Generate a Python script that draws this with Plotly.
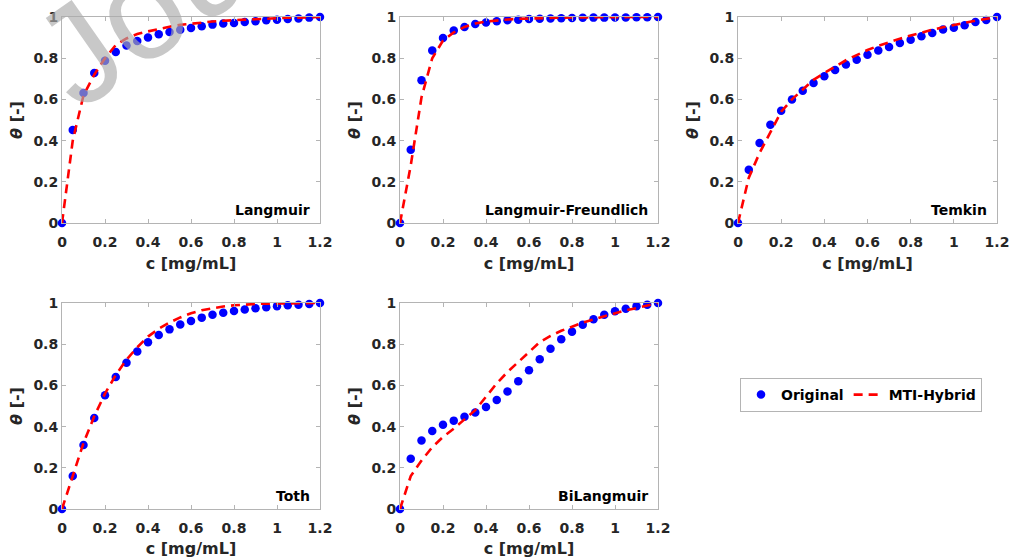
import plotly.graph_objects as go
from plotly.subplots import make_subplots

c = [0.0, 0.05, 0.1, 0.15, 0.2, 0.25, 0.3, 0.35, 0.4, 0.45, 0.5, 0.55, 0.6,
     0.65, 0.7, 0.75, 0.8, 0.85, 0.9, 0.95, 1.0, 1.05, 1.1, 1.15, 1.2]

lang_orig = [0, 0.452, 0.631, 0.728, 0.788, 0.830, 0.862, 0.883, 0.901, 0.916, 0.927, 0.938, 0.947,
             0.955, 0.963, 0.968, 0.971, 0.976, 0.979, 0.984, 0.987, 0.990, 0.993, 0.997, 1.0]
lang_mti = [0, 0.40, 0.62, 0.72, 0.80, 0.864, 0.896, 0.917, 0.930, 0.943, 0.953, 0.962, 0.968,
            0.974, 0.978, 0.982, 0.985, 0.988, 0.990, 0.992, 0.994, 0.996, 0.997, 0.999, 1.0]

lf_orig = [0, 0.356, 0.693, 0.837, 0.898, 0.934, 0.951, 0.966, 0.973, 0.979, 0.984, 0.987, 0.990,
           0.992, 0.993, 0.994, 0.995, 0.996, 0.997, 0.997, 0.998, 0.998, 0.999, 0.999, 1.0]
lf_mti = [0, 0.28, 0.61, 0.80, 0.885, 0.925, 0.952, 0.968, 0.978, 0.984, 0.988, 0.991, 0.993,
          0.995, 0.996, 0.997, 0.998, 0.998, 0.999, 0.999, 1.0, 1.0, 1.0, 1.0, 1.0]

temkin_orig = [0, 0.259, 0.388, 0.477, 0.545, 0.599, 0.642, 0.680, 0.712, 0.743, 0.769, 0.793, 0.817,
               0.837, 0.854, 0.874, 0.890, 0.906, 0.922, 0.939, 0.948, 0.960, 0.976, 0.985, 1.0]
temkin_mti = [0, 0.22, 0.34, 0.44, 0.54, 0.60, 0.648, 0.695, 0.728, 0.76, 0.79, 0.815, 0.84,
              0.86, 0.878, 0.895, 0.91, 0.925, 0.938, 0.95, 0.962, 0.972, 0.982, 0.991, 1.0]

toth_orig = [0, 0.160, 0.311, 0.442, 0.552, 0.641, 0.710, 0.765, 0.809, 0.845, 0.872, 0.896, 0.913,
             0.929, 0.943, 0.953, 0.961, 0.968, 0.974, 0.979, 0.984, 0.989, 0.992, 0.995, 1.0]
toth_mti = [0, 0.165, 0.32, 0.45, 0.56, 0.65, 0.725, 0.785, 0.837, 0.875, 0.905, 0.93, 0.95,
            0.965, 0.975, 0.983, 0.989, 0.993, 0.995, 0.997, 0.998, 0.999, 1.0, 1.0, 1.0]

bil_orig = [0, 0.244, 0.333, 0.379, 0.409, 0.429, 0.448, 0.469, 0.495, 0.529, 0.570, 0.620, 0.673,
            0.727, 0.778, 0.824, 0.861, 0.895, 0.921, 0.943, 0.960, 0.972, 0.984, 0.992, 1.0]
bil_mti = [0, 0.16, 0.235, 0.30, 0.35, 0.39, 0.435, 0.48, 0.545, 0.61, 0.665, 0.715, 0.765,
           0.81, 0.84, 0.865, 0.885, 0.905, 0.92, 0.935, 0.953, 0.965, 0.975, 0.988, 1.0]

panel_names = ["Langmuir", "Langmuir-Freundlich", "Temkin", "Toth", "BiLangmuir"]
orig_series = [lang_orig, lf_orig, temkin_orig, toth_orig, bil_orig]
mti_series = [lang_mti, lf_mti, temkin_mti, toth_mti, bil_mti]

x_ticks = [0, 0.2, 0.4, 0.6, 0.8, 1.0, 1.2]
x_ticktext = ["0", "0.2", "0.4", "0.6", "0.8", "1", "1.2"]
y_ticks = [0, 0.2, 0.4, 0.6, 0.8, 1.0]
y_ticktext = ["0", "0.2", "0.4", "0.6", "0.8", "1"]

W, H = 1011, 558
fig = make_subplots(rows=2, cols=3)

xdom = [(62 / W, 320 / W), (400 / W, 658 / W), (738 / W, 997 / W)]
ydom = [(1 - 223 / H, 1 - 17 / H), (1 - 509 / H, 1 - 303 / H)]
positions = [(1, 1), (1, 2), (1, 3), (2, 1), (2, 2)]

FONT = "DejaVu Sans"
AX_GRAY = "#b4b4b4"
TXT = "#262626"

for i, name in enumerate(panel_names):
    r, cc = positions[i]
    fig.add_trace(go.Scatter(x=c, y=orig_series[i], mode="markers", name="Original",
                             marker=dict(color="#0000ff", size=8.5),
                             cliponaxis=False, showlegend=(i == 0)), row=r, col=cc)
    fig.add_trace(go.Scatter(x=c, y=mti_series[i], mode="lines", name="MTI-Hybrid",
                             line=dict(color="#ff0000", width=2.6, dash="9px,6px"),
                             cliponaxis=False, showlegend=(i == 0)), row=r, col=cc)

for k in range(6):
    r, cc = divmod(k, 3)
    idx = "" if k == 0 else str(k + 1)
    xa = dict(domain=list(xdom[cc]), range=[0, 1.2], tickvals=x_ticks, ticktext=x_ticktext,
              automargin=False, ticklabelstandoff=6,
              showline=True, linecolor=AX_GRAY, linewidth=1, mirror="ticks",
              ticks="inside", ticklen=4, tickcolor=AX_GRAY, showgrid=False, zeroline=False,
              tickfont=dict(family=FONT, size=14, color=TXT, weight="bold"),
              title=dict(text="c [mg/mL]", standoff=9,
                         font=dict(family=FONT, size=16, color=TXT, weight="bold")))
    ya = dict(domain=list(ydom[r]), range=[0, 1], tickvals=y_ticks, ticktext=y_ticktext,
              automargin=False,
              showline=True, linecolor=AX_GRAY, linewidth=1, mirror="ticks",
              ticks="inside", ticklen=4, tickcolor=AX_GRAY, showgrid=False, zeroline=False,
              tickfont=dict(family=FONT, size=14, color=TXT, weight="bold"),
              title=dict(text="<i>θ</i> [-]", standoff=6,
                         font=dict(family=FONT, size=16, color=TXT, weight="bold")))
    if k == 5:
        xa["visible"] = False
        ya["visible"] = False
    fig.layout["xaxis" + idx].update(xa)
    fig.layout["yaxis" + idx].update(ya)

for i, name in enumerate(panel_names):
    idx = "" if i == 0 else str(i + 1)
    fig.add_annotation(text=name, xref="x" + idx + " domain", yref="y" + idx + " domain",
                       x=0.969, y=0.063, xanchor="right", yanchor="middle", showarrow=False,
                       font=dict(family=FONT, size=14, color="#000000", weight="bold"))

# watermark
fig.add_annotation(text="Journal Pre-proof", xref="paper", yref="paper",
                   x=0.4886, y=1.4265, xanchor="center", yanchor="middle", showarrow=False,
                   textangle=-35,
                   font=dict(family="Liberation Sans", size=140, color="rgba(170,170,170,0.65)"))

fig.update_layout(
    width=W, height=H, margin=dict(l=0, r=0, t=0, b=0),
    paper_bgcolor="white", plot_bgcolor="white",
    showlegend=True,
    legend=dict(orientation="h", x=740 / W, y=1 - 378 / H, xanchor="left", yanchor="top",
                bordercolor=AX_GRAY, borderwidth=1, bgcolor="white",
                font=dict(family=FONT, size=14, color="#000000", weight="bold"),
                itemwidth=30, tracegroupgap=0),
)

fig.write_html("out.html")
